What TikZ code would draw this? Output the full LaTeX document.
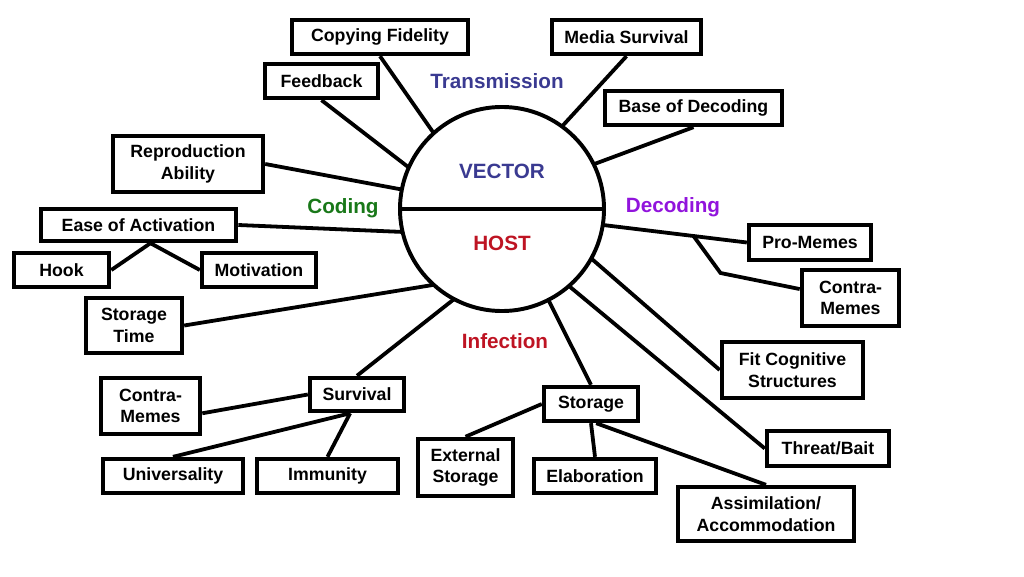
\documentclass[tikz,border=0pt]{standalone}
\usepackage{fontspec}
\setmainfont{Liberation Sans}
\usetikzlibrary{calc}
\definecolor{vcol}{RGB}{58,58,145}
\definecolor{hcol}{RGB}{190,20,35}
\definecolor{ccol}{RGB}{25,120,25}
\definecolor{dcol}{RGB}{145,20,220}

\begin{document}
\begin{tikzpicture}[
  x=0.025cm, y=-0.025cm, line width=2.7pt,
  box/.style={draw,line width=3.1pt,align=center,inner sep=0pt,
    minimum height=0.85cm,font=\fontsize{12.6}{15.2}\selectfont\bfseries},
  tall/.style={minimum height=1.4cm},
  phase/.style={font=\fontsize{14.7}{17}\selectfont\bfseries},
]
\useasboundingbox (0,0) rectangle (1024,577);
% --- the vector / host circle ---
\node[circle,draw,line width=2.8pt,minimum size=5.1cm,inner sep=0pt,outer sep=0pt] (cc) at (502,209) {};
\draw (cc.180) -- (cc.0);
\node[phase,vcol] (vec)  at (502,171) {VECTOR};
\node[phase,hcol] (host) at (502,243) {HOST};

% --- phase labels ---
\node[phase,vcol] (trans) at (497,81)  {Transmission};
\node[phase,ccol] (cod)   at (343,208) {Coding};
\node[phase,dcol] (dec)   at (673,207) {Decoding};
\node[phase,hcol] (inf)   at (505,341) {Infection};

% --- transmission ---
\node[box,minimum width=4.4cm]  (cf) at (380,37)    {Copying Fidelity};
\node[box,minimum width=3.73cm] (ms) at (626.5,37)  {Media Survival};
\node[box,minimum width=2.83cm] (fb) at (321.5,81)  {Feedback};
\node[box,minimum width=4.43cm] (bd) at (693.5,108) {Base of Decoding};
\draw (cf.south) -- (cc.132);
\draw (fb.south) -- (cc.156);
\draw (ms.south) -- (cc.54);
\draw (bd.south) -- (cc.26);

% --- coding ---
\node[box,tall,minimum width=3.75cm]  (ra) at (188,164)   {Reproduction\\Ability};
\node[box,minimum width=4.88cm,minimum height=0.8cm] (ea) at (138.5,225) {Ease of Activation};
\node[box,minimum width=2.38cm] (hk) at (61.5,270)  {Hook};
\node[box,minimum width=2.85cm] (mo) at (259,270)   {Motivation};
\node[box,tall,minimum width=2.4cm,minimum height=1.38cm] (st) at (134,325.5) {Storage\\Time};
\draw (ra.east) -- (cc.169);
\draw (ea.east) -- (cc.193);
\draw (st.east) -- (cc.228);
\coordinate (eab) at ($(ea.south west)!0.56!(ea.south east)$);
\draw (eab) -- (hk.east);
\draw (eab) -- (mo.west);

% --- decoding ---
\node[box,minimum width=3.05cm,minimum height=0.88cm] (pm) at (810,242.5) {Pro-Memes};
\node[box,tall,minimum width=2.43cm]  (cmr) at (850.5,298) {Contra-\\Memes};
\node[box,tall,minimum width=3.53cm]  (fc)  at (792.5,370) {Fit Cognitive\\Structures};
\node[box,minimum width=3.05cm,minimum height=0.88cm] (tb) at (828,448.5) {Threat/Bait};
\node[box,tall,minimum width=4.4cm,minimum height=1.35cm] (as) at (766,514) {Assimilation/\\Accommodation};
\draw (cc.351) -- (pm.west);
\coordinate (pmb) at ($(cc.351)!0.63!(pm.west)$);
\draw (pmb) -- ++(27,37) -- (cmr.170);
\draw (cc.331) -- (fc.west);
\draw (cc.311) -- (tb.west);

% --- infection ---
\node[box,minimum width=2.35cm,minimum height=0.83cm] (sv) at (357,394.5) {Survival};
\node[box,tall,minimum width=2.48cm] (cml) at (150.5,406) {Contra-\\Memes};
\node[box,minimum width=3.5cm]  (un) at (173,476)   {Universality};
\node[box,minimum width=3.53cm] (im) at (327.5,476) {Immunity};
\node[box,minimum width=2.35cm] (sg) at (591,404)   {Storage};
\node[box,tall,minimum width=2.38cm,minimum height=1.43cm] (es) at (465.5,467.5) {External\\Storage};
\node[box,minimum width=3.05cm] (el) at (595,476)   {Elaboration};
\draw (sv.north) -- (cc.242);
\draw (cml.-8) -- (sv.west);
\coordinate (svb) at ($(sv.south west)!0.43!(sv.south east)$);
\draw (un.north) -- (svb);
\draw (im.north) -- (svb);
\draw (sg.north) -- (cc.297);
\draw (es.north) -- (sg.west);
\draw (el.north) -- (sg.south);
\draw (sg.-75) -- (as.north);
\end{tikzpicture}
\end{document}
